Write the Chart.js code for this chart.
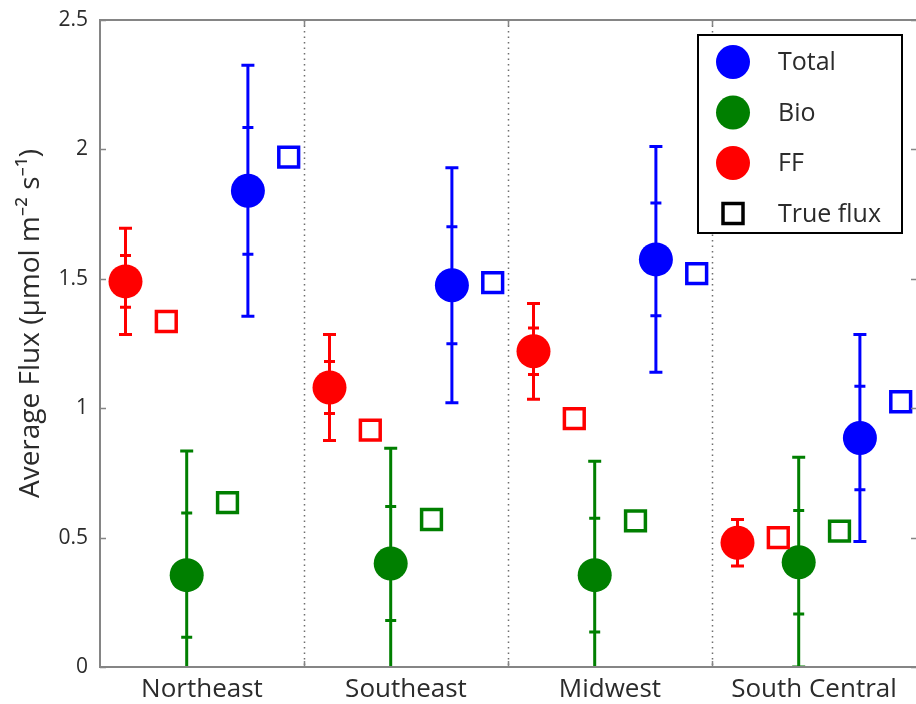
<!DOCTYPE html>
<html>
<head>
<meta charset="utf-8">
<script src="https://cdn.jsdelivr.net/npm/chart.js@4.4.1/dist/chart.umd.min.js"></script>
<style>
    body { margin: 0; background: #fff; }
    #wrap { width: 916px; height: 704px; }
</style>
</head>
<body>
<div id="wrap"><canvas id="chart_flux" width="916" height="704"></canvas></div>
<script>
// data
const regions = ['Northeast', 'Southeast', 'Midwest', 'South Central'];
const yTicks = [0, 0.5, 1, 1.5, 2, 2.5];

const ffMean = [1.49, 1.08, 1.22, 0.48];
const ffInner = [0.10, 0.10, 0.09, 0.045];
const ffOuter = [0.205, 0.205, 0.185, 0.09];
const ffTrue = [1.335, 0.915, 0.96, 0.50];

const bioMean = [0.355, 0.40, 0.355, 0.405];
const bioInner = [0.24, 0.22, 0.22, 0.20];
const bioOuter = [0.48, 0.445, 0.44, 0.405];
const bioTrue = [0.635, 0.57, 0.565, 0.525];

const totalMean = [1.84, 1.475, 1.575, 0.885];
const totalInner = [0.245, 0.226, 0.218, 0.20];
const totalOuter = [0.485, 0.454, 0.436, 0.40];
const totalTrue = [1.97, 1.485, 1.52, 1.025];

const legendLabels = ['Total', 'Bio', 'FF', 'True flux'];
const yTitle = 'Average Flux (\u03bcmol m\u207b\u00b2 s\u207b\u00b9)';

const RED = '#ff0000', GREEN = '#007f00', BLUE = '#0000ff';
const FONT = "'Open Sans', 'Noto Sans', sans-serif";
const TEXT = '#2b2b2b';

// x offset of each marker group inside a region
const off = { ff: -0.375, bio: -0.075, total: 0.225, sq: 0.2 };

function pts(vals, dx) {
    return vals.map((v, i) => ({ x: i + 1 + dx, y: v }));
}

function meanSet(label, vals, inner, outer, dx, color) {
    return {
        label: label,
        data: pts(vals, dx),
        errInner: inner,
        errOuter: outer,
        pointStyle: 'circle',
        pointRadius: 17,
        pointHoverRadius: 17,
        backgroundColor: color,
        borderColor: color,
        borderWidth: 0
    };
}

function trueSet(label, vals, dx, color) {
    return {
        label: label,
        data: pts(vals, dx),
        pointStyle: 'rect',
        pointRadius: 14,
        pointHoverRadius: 14,
        backgroundColor: 'rgba(0,0,0,0)',
        borderColor: color,
        borderWidth: 3.5
    };
}

const datasets = [
    meanSet('FF', ffMean, ffInner, ffOuter, off.ff, RED),
    trueSet('FF true', ffTrue, off.ff + off.sq, RED),
    meanSet('Bio', bioMean, bioInner, bioOuter, off.bio, GREEN),
    trueSet('Bio true', bioTrue, off.bio + off.sq, GREEN),
    meanSet('Total', totalMean, totalInner, totalOuter, off.total, BLUE),
    trueSet('Total true', totalTrue, off.total + off.sq, BLUE)
];

// error bars, dividers, box, y title and legend
const fluxDecor = {
    id: 'fluxDecor',
    beforeDatasetsDraw(chart) {
        const { ctx, chartArea: a, scales: { x, y } } = chart;
        ctx.save();

        // dotted region dividers
        ctx.strokeStyle = '#6e6e6e';
        ctx.lineWidth = 1.5;
        ctx.setLineDash([1.5, 4]);
        for (let i = 1; i < regions.length; i++) {
            const px = Math.round(x.getPixelForValue(i + 0.5)) + 0.5;
            ctx.beginPath();
            ctx.moveTo(px, a.top);
            ctx.lineTo(px, a.bottom);
            ctx.stroke();
        }
        ctx.setLineDash([]);

        ctx.beginPath();
        ctx.rect(a.left, a.top, a.width, a.height);
        ctx.clip();

        chart.data.datasets.forEach((ds, di) => {
            if (!ds.errOuter) return;
            const meta = chart.getDatasetMeta(di);
            ctx.strokeStyle = ds.backgroundColor;
            ctx.lineWidth = 3;
            meta.data.forEach((pt, i) => {
                const m = ds.data[i].y;
                const px = pt.x;
                const oTop = y.getPixelForValue(m + ds.errOuter[i]);
                const oBot = y.getPixelForValue(m - ds.errOuter[i]);
                const iTop = y.getPixelForValue(m + ds.errInner[i]);
                const iBot = y.getPixelForValue(m - ds.errInner[i]);
                ctx.beginPath();
                ctx.moveTo(px, oTop);
                ctx.lineTo(px, oBot);
                [oTop, oBot].forEach(py => { ctx.moveTo(px - 6.5, py); ctx.lineTo(px + 6.5, py); });
                [iTop, iBot].forEach(py => { ctx.moveTo(px - 5.5, py); ctx.lineTo(px + 5.5, py); });
                ctx.stroke();
            });
        });
        ctx.restore();
    },
    afterDraw(chart) {
        const { ctx, chartArea: a, scales: { x, y } } = chart;
        ctx.save();

        // axes frame (right side falls just outside the picture) with inward ticks
        ctx.strokeStyle = '#858585';
        ctx.lineWidth = 2;
        ctx.beginPath();
        ctx.moveTo(a.right + 2, a.top);
        ctx.lineTo(a.left, a.top);
        ctx.lineTo(a.left, a.bottom);
        ctx.lineTo(a.right + 2, a.bottom);
        ctx.stroke();
        ctx.lineWidth = 1.5;
        ctx.beginPath();
        yTicks.forEach(v => {
            const py = Math.round(y.getPixelForValue(v)) + 0.5;
            ctx.moveTo(a.left, py); ctx.lineTo(a.left + 6, py);
            ctx.moveTo(a.right + 1, py); ctx.lineTo(a.right - 5, py);
        });
        for (let i = 1; i < regions.length; i++) {
            const px = Math.round(x.getPixelForValue(i + 0.5)) + 0.5;
            ctx.moveTo(px, a.bottom); ctx.lineTo(px, a.bottom - 6);
            ctx.moveTo(px, a.top); ctx.lineTo(px, a.top + 6);
        }
        ctx.stroke();

        // y axis title, sits a bit above the plot centre in the original
        ctx.save();
        ctx.translate(31, (a.top + a.bottom) / 2 - 20);
        ctx.rotate(-Math.PI / 2);
        ctx.font = '28px ' + FONT;
        ctx.fillStyle = TEXT;
        ctx.textAlign = 'center';
        ctx.textBaseline = 'middle';
        ctx.fillText(yTitle, 0, 0);
        ctx.restore();

        // legend box
        const lx = 698, ly = 35, lw = 204, lh = 198;
        ctx.fillStyle = '#fff';
        ctx.fillRect(lx, ly, lw, lh);
        ctx.strokeStyle = '#000';
        ctx.lineWidth = 2;
        ctx.strokeRect(lx, ly, lw, lh);

        const colors = [BLUE, GREEN, RED, '#000'];
        ctx.font = '25px ' + FONT;
        ctx.textBaseline = 'middle';
        legendLabels.forEach((lab, i) => {
            const cy = ly + 27 + i * 50.5;
            const cx = lx + 35;
            if (i < 3) {
                ctx.fillStyle = colors[i];
                ctx.beginPath();
                ctx.arc(cx, cy, 17, 0, Math.PI * 2);
                ctx.fill();
            } else {
                ctx.strokeStyle = colors[i];
                ctx.lineWidth = 3.5;
                ctx.strokeRect(cx - 10, cy - 10, 20, 20);
            }
            ctx.fillStyle = TEXT;
            ctx.fillText(lab, lx + 80, cy + 1);
        });
        ctx.restore();
    }
};

new Chart(document.getElementById('chart_flux'), {
    type: 'scatter',
    data: { datasets: datasets },
    options: {
        responsive: false,
        devicePixelRatio: 1,
        animation: false,
        layout: { autoPadding: false, padding: { top: 20, right: 0, bottom: 0, left: 0 } },
        plugins: {
            legend: { display: false },
            tooltip: { enabled: false }
        },
        scales: {
            x: {
                type: 'linear',
                min: 0.5,
                max: 4.5,
                grid: { display: false, drawTicks: false },
                border: { display: false },
                afterBuildTicks: (scale) => {
                    scale.ticks = regions.map((r, i) => ({ value: i + 1 }));
                },
                afterFit: (scale) => {
                    scale.height = 37;
                    scale.paddingLeft = 0;
                    scale.paddingRight = 0;
                },
                ticks: {
                    autoSkip: false,
                    maxRotation: 0,
                    padding: 7,
                    color: TEXT,
                    font: { family: FONT, size: 26 },
                    callback: (v, i) => regions[i]
                }
            },
            y: {
                min: 0,
                max: 2.5,
                grid: { display: false, drawTicks: false },
                border: { display: false },
                afterBuildTicks: (scale) => {
                    scale.ticks = yTicks.map(v => ({ value: v }));
                },
                afterFit: (scale) => {
                    scale.width = 100;
                    scale.paddingTop = 0;
                    scale.paddingBottom = 0;
                },
                ticks: {
                    padding: 12,
                    color: TEXT,
                    font: { family: FONT, size: 21 },
                    callback: (v) => String(v)
                }
            }
        }
    },
    plugins: [fluxDecor]
});
</script>
</body>
</html>
